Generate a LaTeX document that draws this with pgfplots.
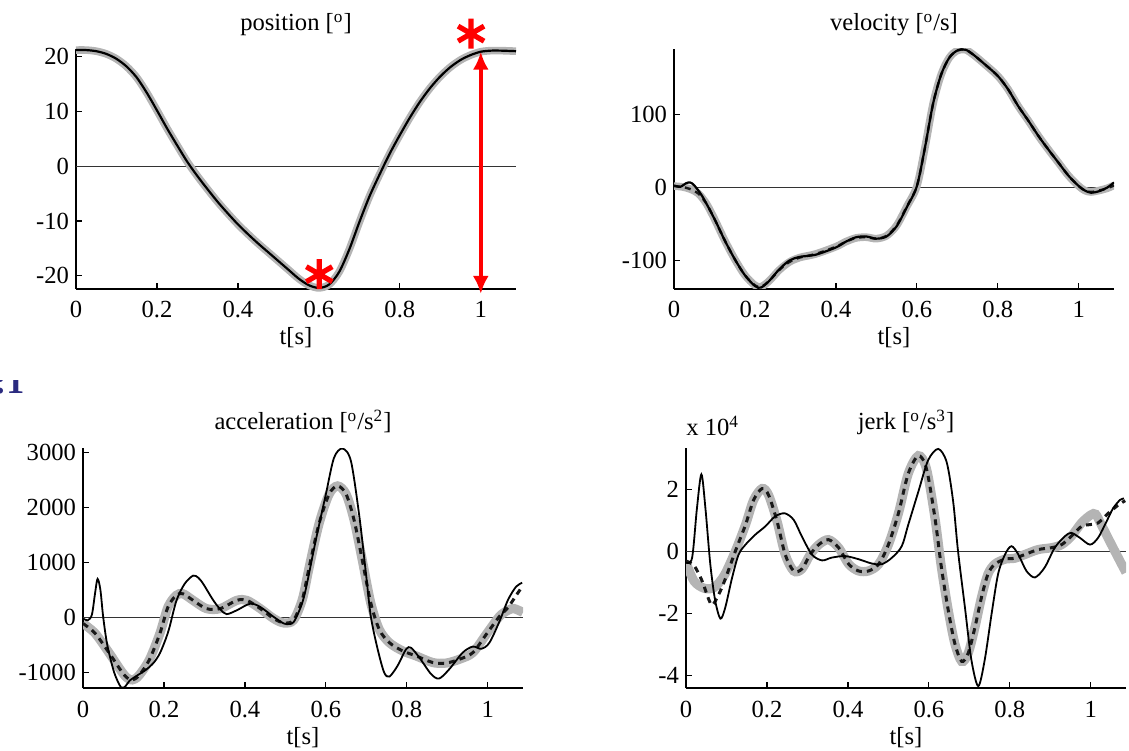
\documentclass[border=0pt]{standalone}
\usepackage{fontspec}
\setmainfont{Liberation Serif}
\usepackage{pgfplots}
\pgfplotsset{compat=1.18}
\usetikzlibrary{arrows.meta}

\definecolor{band}{HTML}{B4B4B4}
\definecolor{slide}{HTML}{2B2B80}

\pgfplotsset{
  panel/.style={
    scale only axis, width=220pt, height=120pt,
    anchor=south west,
    axis x line=bottom, axis y line=left,
    axis line style={-, line width=0.8pt, black},
    x axis line style={-}, y axis line style={-},
    xmin=0, xmax=1.087,
    xtick={0,0.2,0.4,0.6,0.8,1},
    xticklabels={0,0.2,0.4,0.6,0.8,1},
    tick align=inside,
    major tick length=3pt,
    tick style={black, line width=0.6pt},
    tick label style={font=\fontsize{12.3}{14}\selectfont},
    /pgf/number format/assume math mode=true,
    /pgf/number format/1000 sep={},
    xticklabel style={anchor=base, yshift=-14.5pt},
    xlabel={t[s]},
    xlabel style={at={(axis description cs:0.5,0)}, anchor=base, yshift=-28pt,
      font=\fontsize{12.3}{14}\selectfont},
    every axis title shift=0pt,
    title style={at={(axis description cs:0.5,1)}, anchor=base, yshift=9pt,
      font=\fontsize{12.3}{14}\selectfont},
  },
  gband/.style={band, line width=3.8pt, smooth},
  gdash/.style={black!90, line width=1.5pt, dash pattern=on 3pt off 2.5pt, smooth},
  gsolid/.style={black, line width=0.9pt, smooth},
  zline/.style={black!80, line width=0.5pt},
}

% position
\pgfplotstableread{
t p
0 21.2
0.025 21.2
0.05 21.0
0.075 20.5
0.1 19.6
0.125 18.2
0.15 16.2
0.175 13.4
0.2 10.2
0.225 6.9
0.25 3.8
0.275 0.8
0.3 -1.8
0.325 -4.2
0.35 -6.5
0.375 -8.6
0.4 -10.6
0.425 -12.4
0.45 -14.1
0.475 -15.7
0.5 -17.3
0.525 -18.9
0.55 -20.5
0.575 -21.7
0.6 -22.2
0.625 -21.6
0.65 -19.3
0.675 -15.2
0.7 -10.2
0.725 -5.5
0.75 -1.5
0.775 2.3
0.8 5.7
0.825 8.9
0.85 11.8
0.875 14.3
0.9 16.4
0.925 18.1
0.95 19.4
0.975 20.3
1.0 20.9
1.025 21.1
1.05 21.1
1.087 21.0
}\pos

% velocity, measured (solid)
\pgfplotstableread{
t v
0 3
0.015 1
0.03 6
0.04 7
0.05 3
0.07 -12
0.1 -43
0.125 -72
0.15 -98
0.175 -120
0.2 -135
0.215 -137
0.235 -128
0.26 -112
0.285 -100
0.31 -95
0.35 -92
0.4 -82
0.425 -74
0.45 -68
0.475 -67
0.5 -70
0.525 -67
0.55 -53
0.575 -27
0.6 2
0.62 55
0.64 115
0.66 155
0.68 178
0.7 188
0.72 189
0.74 182
0.77 168
0.8 153
0.825 135
0.85 112
0.875 92
0.9 71
0.925 52
0.95 34
0.975 16
1.0 2
1.015 -4
1.03 -7
1.05 -5
1.07 0
1.087 7
}\vel

% velocity, model (grey / dashed)
\pgfplotstableread{
t v
0 2
0.02 1
0.04 -2
0.06 -8
0.08 -22
0.1 -43
0.125 -72
0.15 -98
0.175 -120
0.2 -134
0.215 -136
0.235 -128
0.26 -113
0.285 -102
0.31 -96
0.35 -91
0.4 -81
0.425 -74
0.45 -69
0.475 -68
0.5 -70
0.525 -66
0.55 -52
0.575 -26
0.6 2
0.62 55
0.64 115
0.66 155
0.68 178
0.7 188
0.72 189
0.74 182
0.77 168
0.8 153
0.825 135
0.85 112
0.875 92
0.9 71
0.925 52
0.95 34
0.975 16
1.0 2
1.015 -4
1.03 -6
1.05 -4
1.07 -1
1.087 3
}\velm

% acceleration, measured
\pgfplotstableread{
t a
0 -20
0.012 -50
0.022 50
0.03 450
0.036 700
0.043 500
0.05 0
0.06 -500
0.077 -1000
0.094 -1270
0.105 -1250
0.115 -1150
0.135 -1050
0.156 -950
0.175 -820
0.19 -650
0.205 -380
0.214 -170
0.231 310
0.251 610
0.272 760
0.285 720
0.297 610
0.322 310
0.34 140
0.355 60
0.38 130
0.413 250
0.438 190
0.471 10
0.496 -110
0.51 -120
0.521 -80
0.538 190
0.55 500
0.575 1400
0.6 2240
0.62 2900
0.641 3070
0.662 2840
0.683 1820
0.699 800
0.711 20
0.728 -580
0.744 -1000
0.757 -1075
0.777 -880
0.798 -580
0.81 -550
0.831 -730
0.86 -1030
0.88 -1110
0.905 -940
0.938 -640
0.963 -530
0.984 -570
1.004 -460
1.029 -70
1.05 320
1.07 560
1.085 630
}\acc

% acceleration, model (grey)
\pgfplotstableread{
t a
0 -110
0.03 -290
0.065 -650
0.098 -1010
0.115 -1130
0.128 -1120
0.14 -1040
0.164 -770
0.19 -290
0.21 190
0.23 400
0.247 430
0.272 310
0.305 160
0.339 160
0.38 310
0.405 310
0.438 160
0.471 -20
0.496 -100
0.52 -50
0.542 330
0.559 920
0.583 1700
0.608 2240
0.629 2390
0.65 2240
0.67 1760
0.69 1040
0.711 260
0.732 -220
0.757 -460
0.79 -610
0.823 -700
0.864 -820
0.897 -830
0.93 -760
0.963 -640
0.996 -310
1.029 20
1.05 130
1.065 160
1.087 90
}\accg

% acceleration, model (dashed)
\pgfplotstableread{
t a
0 -110
0.03 -290
0.065 -650
0.098 -1010
0.115 -1130
0.128 -1120
0.14 -1040
0.164 -770
0.19 -290
0.21 190
0.23 400
0.247 430
0.272 310
0.305 160
0.339 160
0.38 310
0.405 310
0.438 160
0.471 -20
0.496 -100
0.52 -50
0.542 330
0.559 920
0.583 1700
0.608 2240
0.629 2390
0.65 2240
0.67 1760
0.69 1040
0.711 260
0.732 -220
0.757 -460
0.79 -610
0.823 -700
0.864 -820
0.897 -830
0.93 -760
0.963 -640
0.996 -310
1.029 20
1.05 180
1.07 400
1.087 580
}\accd

% jerk (x 10^4), measured
\pgfplotstableread{
t j
0 -0.35
0.015 -0.2
0.027 1.4
0.038 2.5
0.048 1.4
0.06 -0.4
0.072 -1.57
0.085 -2.16
0.097 -1.8
0.114 -0.83
0.13 -0.09
0.147 0.23
0.171 0.55
0.196 0.82
0.22 1.14
0.244 1.24
0.266 1.03
0.286 0.5
0.311 -0.09
0.336 -0.28
0.36 -0.19
0.393 -0.14
0.426 -0.24
0.459 -0.38
0.484 -0.4
0.509 -0.19
0.533 0.18
0.549 0.87
0.574 1.94
0.598 2.95
0.623 3.32
0.644 2.89
0.66 1.62
0.672 0.02
0.689 -1.79
0.705 -3.49
0.722 -4.34
0.738 -3.49
0.755 -2.0
0.771 -0.72
0.788 -0.09
0.804 0.18
0.821 -0.09
0.841 -0.62
0.862 -0.83
0.886 -0.51
0.911 0.13
0.936 0.5
0.952 0.61
0.973 0.45
0.998 0.23
1.018 0.45
1.039 0.98
1.055 1.4
1.072 1.67
1.082 1.72
}\jrk

% jerk, model (grey)
\pgfplotstableread{
t j
0 -0.35
0.02 -0.95
0.045 -1.18
0.07 -1.15
0.095 -0.75
0.122 0.02
0.147 0.87
0.167 1.67
0.188 2.04
0.204 1.83
0.225 0.98
0.245 -0.09
0.266 -0.62
0.286 -0.56
0.307 -0.09
0.328 0.23
0.352 0.39
0.377 0.13
0.402 -0.4
0.426 -0.62
0.451 -0.62
0.476 -0.4
0.5 0.23
0.525 1.25
0.549 2.52
0.574 3.1
0.594 2.68
0.615 1.09
0.631 -0.51
0.648 -1.9
0.664 -2.96
0.681 -3.54
0.697 -3.28
0.714 -2.43
0.73 -1.47
0.746 -0.72
0.763 -0.4
0.788 -0.24
0.812 -0.21
0.837 -0.09
0.87 0.07
0.903 0.13
0.928 0.23
0.952 0.5
0.977 0.93
1.0 1.19
1.012 1.21
1.026 0.87
1.051 0.23
1.076 -0.4
1.087 -0.67
}\jrkg

% jerk, model (dashed)
\pgfplotstableread{
t j
0 -0.3
0.02 -0.45
0.04 -0.95
0.055 -1.5
0.065 -1.72
0.08 -1.4
0.095 -0.95
0.122 0.02
0.147 0.87
0.167 1.67
0.188 2.04
0.204 1.83
0.225 0.98
0.245 -0.09
0.266 -0.62
0.286 -0.56
0.307 -0.09
0.328 0.23
0.352 0.39
0.377 0.13
0.402 -0.4
0.426 -0.62
0.451 -0.62
0.476 -0.4
0.5 0.23
0.525 1.25
0.549 2.52
0.574 3.1
0.594 2.68
0.615 1.09
0.631 -0.51
0.648 -1.9
0.664 -2.96
0.681 -3.54
0.697 -3.28
0.714 -2.43
0.73 -1.47
0.746 -0.72
0.763 -0.4
0.788 -0.24
0.812 -0.21
0.837 -0.09
0.87 0.07
0.903 0.13
0.928 0.23
0.952 0.5
0.977 0.82
1.0 0.88
1.018 0.93
1.043 1.24
1.067 1.5
1.085 1.65
}\jrkd

\begin{document}
\begin{tikzpicture}
\path[use as bounding box] (0,0) rectangle (564.5pt,375pt);

% cropped slide text at the left edge
\begin{scope}
  \clip (0,170pt) rectangle (20pt,184.5pt);
  \node[anchor=base west, inner sep=0, text=slide,
    font=\fontsize{18}{18}\selectfont\bfseries] at (-3pt,178pt) {:1};
\end{scope}

% position
\begin{axis}[panel, at={(38pt,230.5pt)},
  ymin=-22.4, ymax=21.4, ytick={-20,-10,0,10,20},
  title={position [\textsuperscript{o}]}, clip=false]
  \addplot[zline] coordinates {(0,0) (1.087,0)};
  \addplot[gband] table[x=t, y=p] {\pos};
  \addplot[gsolid, line width=1.1pt] table[x=t, y=p] {\pos};
  \addplot[red, line width=1.8pt,
    arrows={Latex[length=9pt,width=8pt]-Latex[length=9pt,width=8pt]}]
    coordinates {(1,20.9) (1,-23.3)};
  \addplot[only marks, red, mark=asterisk, mark size=7.5pt,
    mark options={line width=2.6pt}]
    coordinates {(0.601,-19.7) (0.976,24.2)};
\end{axis}

% velocity
\begin{axis}[panel, at={(337pt,230.5pt)},
  ymin=-139, ymax=190, ytick={-100,0,100},
  title={velocity [\textsuperscript{o}/s]}]
  \addplot[zline] coordinates {(0,0) (1.087,0)};
  \addplot[gband] table[x=t, y=v] {\velm};
  \addplot[gdash, line width=1.2pt] table[x=t, y=v] {\velm};
  \addplot[gsolid, line width=1.1pt] table[x=t, y=v] {\vel};
\end{axis}

% acceleration
\begin{axis}[panel, at={(41.5pt,31pt)},
  ymin=-1283, ymax=3080, ytick={-1000,0,1000,2000,3000},
  title={acceleration [\textsuperscript{o}/s\textsuperscript{2}]}]
  \addplot[zline] coordinates {(0,0) (1.087,0)};
  \addplot[gband, line width=4.6pt] table[x=t, y=a] {\accg};
  \addplot[gdash] table[x=t, y=a] {\accd};
  \addplot[gsolid] table[x=t, y=a] {\acc};
\end{axis}

% jerk
\begin{axis}[panel, name=pj, at={(343pt,31pt)},
  ymin=-4.4, ymax=3.35, ytick={-4,-2,0,2},
  title={jerk [\textsuperscript{o}/s\textsuperscript{3}]}]
  \addplot[zline] coordinates {(0,0) (1.087,0)};
  \addplot[gband, line width=4.6pt] table[x=t, y=j] {\jrkg};
  \addplot[gdash] table[x=t, y=j] {\jrkd};
  \addplot[gsolid] table[x=t, y=j] {\jrk};
\end{axis}
\node[anchor=base west, inner sep=0, font=\fontsize{12.3}{14}\selectfont]
  at ([yshift=6pt]pj.north west) {x 10\textsuperscript{4}};

\end{tikzpicture}
\end{document}
